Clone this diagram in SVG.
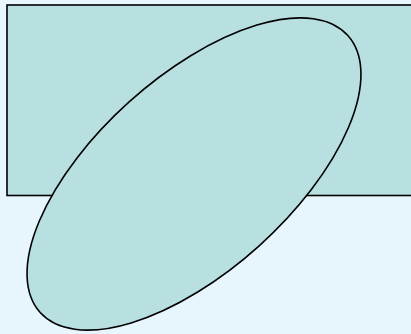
<svg xmlns="http://www.w3.org/2000/svg" width="411" height="334" viewBox="0 0 411 334">
<style>
.shape{fill:#b9e0e1;stroke:#000;stroke-width:1.6}
</style>
<rect x="0" y="0" width="411" height="334" fill="#e7f5fc"/>
<g id="rectangle"><rect class="shape" x="7" y="5" width="410" height="190.5"/></g>
<g id="ellipse"><ellipse class="shape" cx="0" cy="0" rx="207" ry="97" transform="translate(194 174) rotate(-42)"/></g>
<g id="connectors"></g>
</svg>
